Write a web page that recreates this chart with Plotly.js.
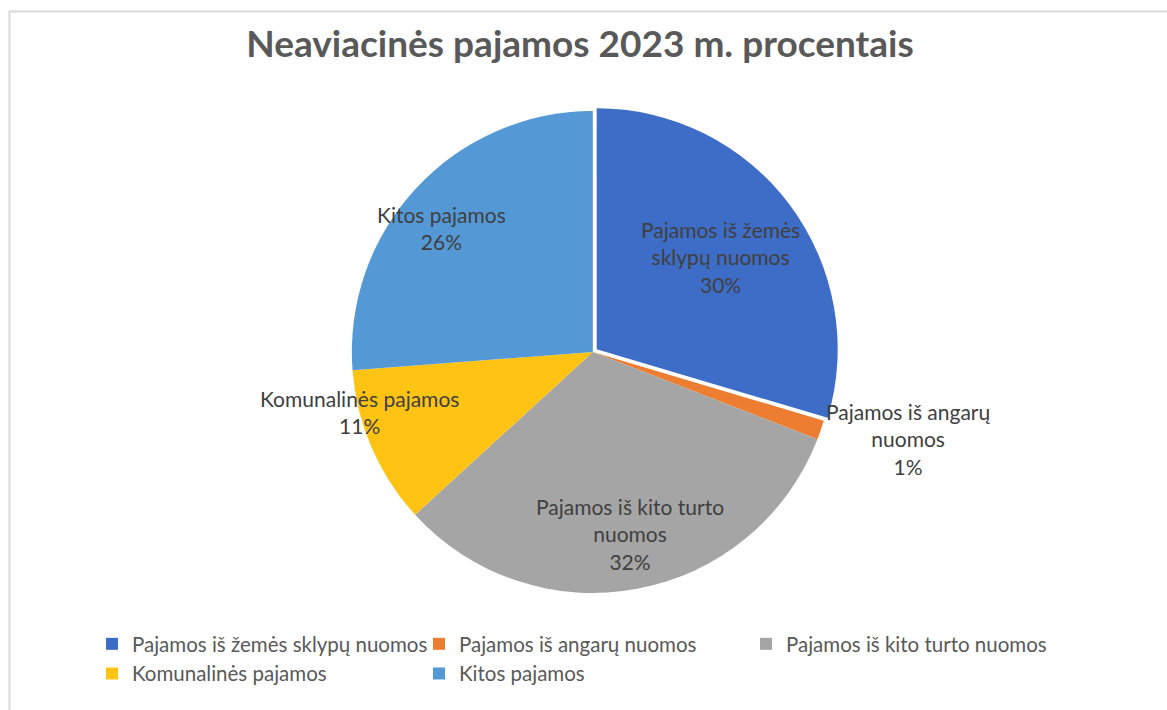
<!DOCTYPE html>
<html>
<head>
<meta charset="utf-8">
<script src="https://cdn.plot.ly/plotly-3.0.1.min.js"></script>
<style>
  html, body { margin: 0; padding: 0; background: #ffffff; }
  #chart { width: 1167px; height: 710px; }
</style>
</head>
<body>
<div id="chart"></div>
<script>
// ---- data ----
const categories = [
  "Pajamos iš žemės sklypų nuomos",
  "Pajamos iš angarų nuomos",
  "Pajamos iš kito turto nuomos",
  "Komunalinės pajamos",
  "Kitos pajamos"
];
const labelLines = [
  "Pajamos iš žemės<br>sklypų nuomos",
  "Pajamos iš angarų<br>nuomos",
  "Pajamos iš kito turto<br>nuomos",
  "Komunalinės pajamos",
  "Kitos pajamos"
];
const values = [29.6, 1.3, 32.3, 10.6, 26.2];
const chartTitle = "Neaviacinės pajamos 2023 m. procentais";

// ---- style ----
const W = 1167, H = 710;
const colors = ["#3E6DC7", "#ED7D31", "#A5A5A5", "#FFC314", "#5498D6"];
const pulls = [0.02, 0, 0, 0, 0];
const domX = [0.2, 0.816];
const domY = [0.158, 0.8504];
// label placement relative to slice mid-angle (degrees) and radius fraction
const labelAngleShift = [0, -3.5, -1, 9, -3.5];
const labelRadius = [0.66, 1.36, 0.77, 1.0, 0.81];
const textColor = "#404040";
const fontFamily = "Lato, 'Open Sans', 'DejaVu Sans', sans-serif";

const total = values.reduce((a, b) => a + b, 0);
const maxPull = Math.max(...pulls);
const cx = (domX[0] + domX[1]) / 2 * W;
const cy = (1 - (domY[0] + domY[1]) / 2) * H;
const R = Math.min((domX[1] - domX[0]) * W, (domY[1] - domY[0]) * H) / 2 / (1 + maxPull);

const annotations = [];
let cum = 0;
values.forEach((v, i) => {
  const mid = (cum + v / 2) / total * 360 + labelAngleShift[i];
  cum += v;
  const a = mid * Math.PI / 180;
  const px = cx + Math.sin(a) * R * labelRadius[i];
  const py = cy - Math.cos(a) * R * labelRadius[i];
  annotations.push({
    xref: "paper", yref: "paper",
    x: px / W, y: 1 - py / H,
    xanchor: "center", yanchor: "middle",
    text: labelLines[i] + "<br>" + Math.round(v / total * 100) + "%",
    showarrow: false,
    align: "center",
    font: { family: fontFamily, size: 21, color: textColor }
  });
});

const trace = {
  type: "pie",
  labels: categories,
  values: values,
  sort: false,
  direction: "clockwise",
  rotation: 0,
  pull: pulls,
  textinfo: "none",
  hoverinfo: "label+percent",
  marker: { colors: colors, line: { color: "#ffffff", width: 0 } },
  domain: { x: domX, y: domY }
};

const layout = {
  width: W, height: H,
  margin: { l: 0, r: 0, t: 0, b: 0 },
  paper_bgcolor: "#ffffff",
  font: { family: fontFamily, color: "#595959" },
  title: {
    text: "<b>" + chartTitle + "</b>",
    x: 580 / W, xanchor: "center",
    y: 1 - 44 / H, yanchor: "middle",
    font: { family: fontFamily, size: 37, color: "#595959" }
  },
  showlegend: true,
  legend: {
    orientation: "h",
    x: 92 / W, xanchor: "left",
    y: 1 - 624 / H, yanchor: "top",
    entrywidth: 282, entrywidthmode: "pixels",
    font: { family: fontFamily, size: 20.5, color: "#595959" },
    traceorder: "normal"
  },
  annotations: annotations,
  shapes: [{
    type: "rect", xref: "paper", yref: "paper",
    x0: 9.5 / W, x1: 1.02, y0: -0.02, y1: 1 - 11.5 / H,
    line: { color: "#D9D9D9", width: 2 },
    fillcolor: "rgba(0,0,0,0)"
  }]
};

Plotly.newPlot("chart", [trace], layout, { displayModeBar: false, staticPlot: false });
</script>
</body>
</html>
